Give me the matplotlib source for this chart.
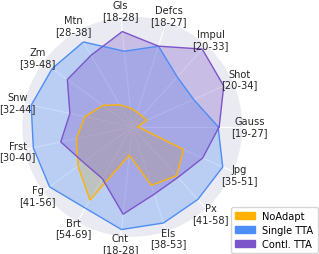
import numpy as np
import matplotlib
matplotlib.use("Agg")
import matplotlib.pyplot as plt
from matplotlib.patches import Patch

categories = ["Gauss", "Shot", "Impul", "Defcs", "Gls", "Mtn", "Zm", "Snw",
              "Frst", "Fg", "Brt", "Cnt", "Els", "Px", "Jpg"]
ranges = ["[19-27]", "[20-34]", "[20-33]", "[18-27]", "[18-28]", "[28-38]",
          "[39-48]", "[32-44]", "[30-40]", "[41-56]", "[54-69]", "[18-28]",
          "[38-53]", "[41-58]", "[35-51]"]

no_adapt = [0.05, 0.145, 0.13, 0.14, 0.17, 0.23, 0.33, 0.44, 0.52, 0.61,
            0.77, 0.26, 0.56, 0.60, 0.51]
single_tta = [0.78, 0.61, 0.61, 0.77, 0.69, 0.89, 0.90, 0.94, 0.92, 0.93,
              0.855, 0.94, 0.92, 0.89, 0.90]
contl_tta = [0.79, 0.91, 0.95, 0.77, 0.87, 0.75, 0.73, 0.58, 0.665, 0.55,
             0.545, 0.80, 0.645, 0.62, 0.70]

series = [("NoAdapt", no_adapt, "#FFB300", 0.3),
          ("Single TTA", single_tta, "#4C8DF6", 0.3),
          ("Contl. TTA", contl_tta, "#7B55C9", 0.3)]

plt.rcParams['font.family'] = ['DejaVu Sans']
fig = plt.figure(figsize=(3.19, 2.55), dpi=100)
ax = fig.add_axes([0.0699, 0.0678, 0.6897, 0.8627], projection='polar')
ax.set_facecolor("#EAEAF2")

n = len(categories)
angles = np.linspace(0, 2 * np.pi, n, endpoint=False)
ang_c = np.concatenate([angles, angles[:1]])

for name, vals, col, a in series:
    v = np.concatenate([vals, vals[:1]])
    ax.fill(ang_c, v, color=col, alpha=a, lw=0, zorder=2)
for name, vals, col, a in series:
    v = np.concatenate([vals, vals[:1]])
    ax.plot(ang_c, v, color=col, lw=1.0, zorder=3)

ax.set_ylim(0, 1.0)
ax.set_yticks([])
ax.set_xticks(angles)
ax.set_xticklabels([])
ax.xaxis.grid(True, color="white", lw=0.8)
ax.yaxis.grid(False)
ax.spines['polar'].set_visible(False)

for ang, c, r in zip(angles, categories, ranges):
    ax.text(ang, 1.065, f"{c}\n{r}", ha="center", va="center",
            fontsize=7.1, color="#262626", linespacing=1.1, clip_on=False)

handles = [Patch(facecolor=c, edgecolor=c, label=nm) for nm, _, c, _ in series]
fig.legend(handles=handles, loc="lower right", bbox_to_anchor=(1.0, 0.0),
           fontsize=7.1, frameon=True, handlelength=2.0, handleheight=0.7,
           handletextpad=0.8, borderpad=0.4, labelspacing=0.4,
           borderaxespad=0.15)

fig.savefig("out.png", dpi=100)
